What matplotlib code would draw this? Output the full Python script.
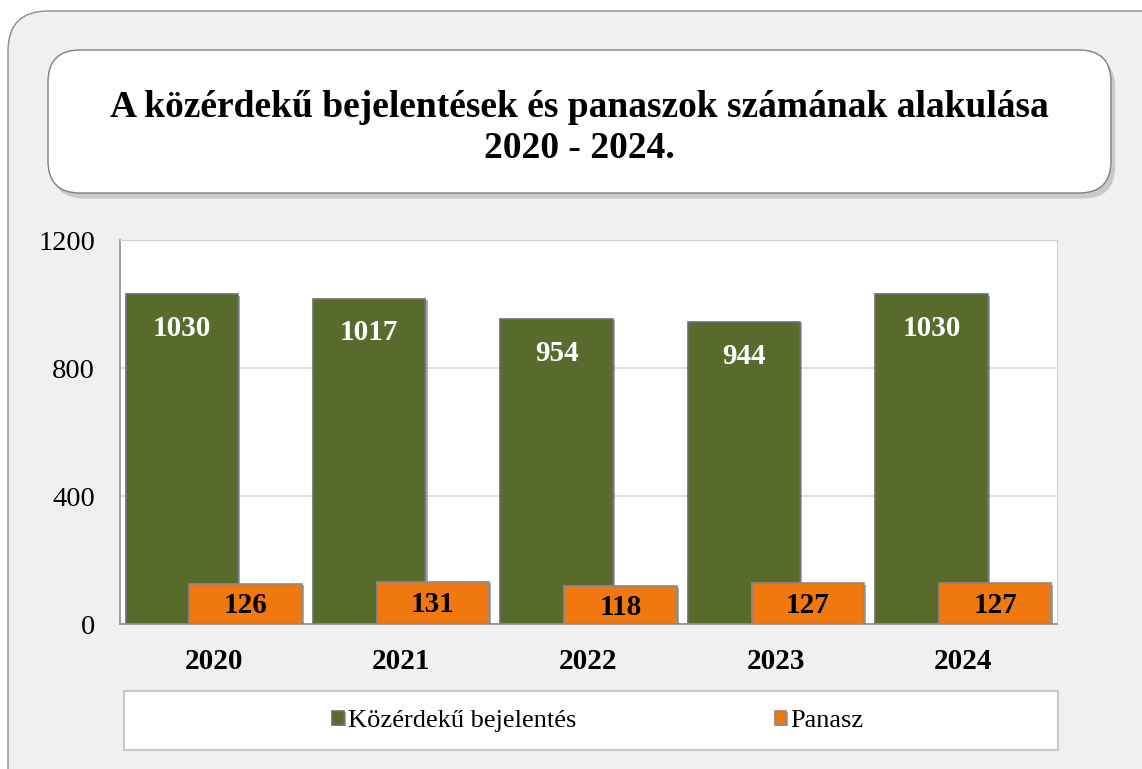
import matplotlib.pyplot as plt
from matplotlib.patches import FancyBboxPatch, Rectangle
import matplotlib.patheffects as pe
import numpy as np

plt.rcParams['font.family'] = ['Liberation Serif', 'DejaVu Serif']

# Data
years = ['2020', '2021', '2022', '2023', '2024']
bejelentes = [1030, 1017, 954, 944, 1030]
panasz = [126, 131, 118, 127, 127]
series_names = ['Közérdekű bejelentés', 'Panasz']
title = 'A közérdekű bejelentések és panaszok számának alakulása\n2020 - 2024.'

green = '#586a2c'
orange = '#f0780f'

W, H = 1142, 769
fig = plt.figure(figsize=(W / 100, H / 100), dpi=100)
fig.patch.set_facecolor('white')

# outer rounded panel
bg = FancyBboxPatch((8 / W, -0.2), 1.2, 1.2 - 11 / H, boxstyle='round,pad=0,rounding_size=0.035',
                    transform=fig.transFigure, facecolor='#f0f0f0', edgecolor='#8c8c8c',
                    linewidth=1.0, mutation_aspect=W / H, zorder=-10)
fig.patches.append(bg)

# title box with shadow
tb = FancyBboxPatch((48 / W, 1 - 193 / H), (1111 - 48) / W, (193 - 50) / H,
                    boxstyle='round,pad=0,rounding_size=0.028',
                    transform=fig.transFigure, facecolor='white', edgecolor='#808080',
                    linewidth=1.0, mutation_aspect=W / H, zorder=-5,
                    path_effects=[pe.SimplePatchShadow(offset=(3, -4), shadow_rgbFace='#b0b0b0', alpha=0.6),
                                  pe.Normal()])
fig.patches.append(tb)
fig.text((48 + 1111) / 2 / W, 1 - 128 / H, title, ha='center', va='center',
         fontsize=27, fontweight='bold', linespacing=1.2)

# plot area
ax = fig.add_axes([120 / W, 1 - 624 / H, (1057 - 120) / W, (624 - 240) / H])
ax.set_facecolor('white')
x = np.arange(len(years))
bw = 0.6
off = 0.17
b1 = ax.bar(x - off, bejelentes, bw, color=green, edgecolor='#6e6e6e', linewidth=1.2,
            label=series_names[0], zorder=2)
b2 = ax.bar(x + off, panasz, bw, color=orange, edgecolor='#8a8a8a', linewidth=1.2,
            label=series_names[1], zorder=3)
for bar in list(b1) + list(b2):
    bar.set_path_effects([pe.SimplePatchShadow(offset=(1.5, -1), shadow_rgbFace='#555555', alpha=0.5),
                          pe.Normal()])

for xi, v in zip(x, bejelentes):
    ax.annotate(str(v), (xi - off, v), xytext=(0, -15), textcoords='offset points',
                ha='center', va='top', color='white', fontsize=21, fontweight='bold', zorder=4)
for xi, v in zip(x, panasz):
    ax.text(xi + off, v / 2 - 6, str(v), ha='center', va='center', color='black',
            fontsize=21, fontweight='bold', zorder=4)

ax.set_xlim(-0.5, len(years) - 0.5)
ax.set_ylim(0, 1200)
ax.set_yticks([0, 400, 800, 1200])
ax.set_xticks(x)
ax.set_xticklabels(years, fontsize=21, fontweight='bold')
ax.tick_params(axis='y', labelsize=20.5, length=0, pad=18)
ax.tick_params(axis='x', length=0, pad=17)
ax.yaxis.grid(True, color='#d9d9d9', linewidth=1.2, zorder=0)
ax.set_axisbelow(True)
for s in ['top', 'right']:
    ax.spines[s].set_color('#d0d0d0')
for s in ['left', 'bottom']:
    ax.spines[s].set_color('#8c8c8c')
    ax.spines[s].set_linewidth(1.2)

# legend box
lb = Rectangle((124 / W, 1 - 750 / H), (1058 - 124) / W, (750 - 691) / H,
               transform=fig.transFigure, facecolor='white', edgecolor='#c8c8c8',
               linewidth=1.5, zorder=-5)
fig.patches.append(lb)
leg = fig.legend(handles=[b1, b2], labels=series_names, loc='center',
                 bbox_to_anchor=(598 / W, 1 - 721 / H), ncol=2, frameon=False,
                 fontsize=19, handlelength=0.45, handleheight=0.45, handletextpad=0.15,
                 columnspacing=7.5)

fig.savefig('out.png', dpi=100, facecolor=fig.get_facecolor())
